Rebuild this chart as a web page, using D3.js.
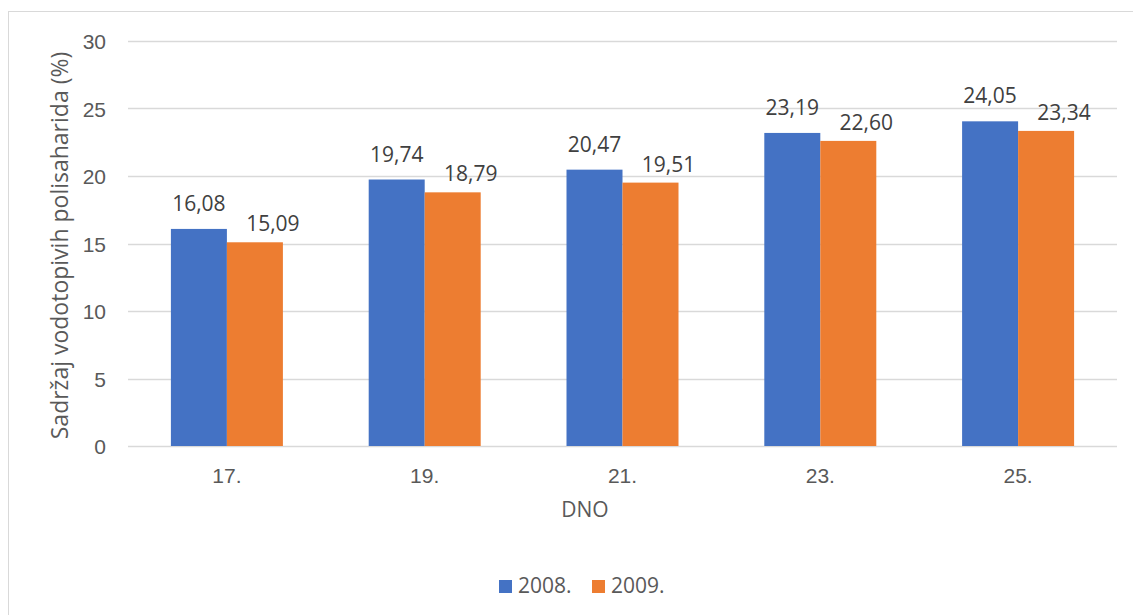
<!DOCTYPE html>
<html><head><meta charset="utf-8">
<script src="https://cdn.jsdelivr.net/npm/d3@7"></script>
<style>body{margin:0;background:#fff;} svg{display:block;font-family:"Open Sans","Liberation Sans",sans-serif;}</style>
</head><body><svg id="c" width="1133" height="615"></svg>
<script>
const categories = ["17.", "19.", "21.", "23.", "25."];
const series = ["2008.", "2009."];
const values2008 = [16.08, 19.74, 20.47, 23.19, 24.05];
const values2009 = [15.09, 18.79, 19.51, 22.60, 23.34];
const yTicks = [0, 5, 10, 15, 20, 25, 30];
const colors = ["#4472C4", "#ED7D31"];

const svg = d3.select("#c");
const W = 1133, H = 615;
const m = {l:128, r:16, t:41, b:169};
svg.append("rect").attr("x",8.5).attr("y",11.5).attr("width",W).attr("height",H)
  .attr("fill","#fff").attr("stroke","#D9D9D9");

const x = d3.scaleBand().domain(categories).range([m.l, W-m.r]).paddingInner(0).paddingOuter(0);
const y = d3.scaleLinear().domain([0,30]).range([H-m.b, m.t]);
const x1 = d3.scaleBand().domain(series).range([0, 112]);
const fmt = v => v.toFixed(2).replace(".", ",");

const g = svg.append("g");
g.selectAll("line.grid").data(yTicks).join("line")
  .attr("x1", m.l).attr("x2", W-m.r)
  .attr("y1", d=>Math.round(y(d))+0.5).attr("y2", d=>Math.round(y(d))+0.5)
  .attr("stroke","#D9D9D9").attr("stroke-width",1.3);

const yAxis = g.append("g").attr("transform",`translate(${m.l-22},0)`)
  .call(d3.axisLeft(y).tickValues(yTicks).tickSize(0).tickPadding(0));
yAxis.select(".domain").remove();
yAxis.selectAll("text").attr("fill","#595959").style("font-size","21px").attr("dy","0.36em");

const xAxis = g.append("g").attr("transform",`translate(0,${H-m.b})`)
  .call(d3.axisBottom(x).tickSize(0).tickPadding(22));
xAxis.select(".domain").remove();
xAxis.selectAll("text").attr("fill","#595959").style("font-size","21px");

const data = [values2008, values2009];
const labelDx = [0, 18], labelDy = [18, 11];
series.forEach((s,i)=>{
  const grp = g.append("g");
  categories.forEach((c,j)=>{
    const v = data[i][j];
    const bx = x(c) + x.bandwidth()/2 - 56 + x1(s);
    grp.append("rect").attr("x", bx).attr("y", y(v)).attr("width", x1.bandwidth())
      .attr("height", y(0)-y(v)).attr("fill", colors[i]);
  });
});
series.forEach((s,i)=>{
  categories.forEach((c,j)=>{
    const v = data[i][j];
    const bx = x(c) + x.bandwidth()/2 - 56 + x1(s);
    g.append("text").attr("x", bx + x1.bandwidth()/2 + labelDx[i]).attr("y", y(v)-labelDy[i])
      .attr("text-anchor","middle").attr("fill","#404040").style("font-size","21px").text(fmt(v));
  });
});

svg.append("text").attr("transform",`translate(68,${(m.t+H-m.b)/2+2}) rotate(-90)`)
  .attr("text-anchor","middle").attr("fill","#595959").style("font-size","23px")
  .text("Sadržaj vodotopivih polisaharida (%)");
svg.append("text").attr("x", 585).attr("y", 517).attr("text-anchor","middle")
  .attr("fill","#595959").style("font-size","21px").text("DNO");

const leg = svg.append("g");
const legX = [499, 592];
series.forEach((s,i)=>{
  leg.append("rect").attr("x",legX[i]).attr("y",580).attr("width",13).attr("height",13).attr("fill",colors[i]);
  leg.append("text").attr("x",legX[i]+19).attr("y",593).attr("fill","#595959").style("font-size","21px").text(s);
});
</script></body></html>
